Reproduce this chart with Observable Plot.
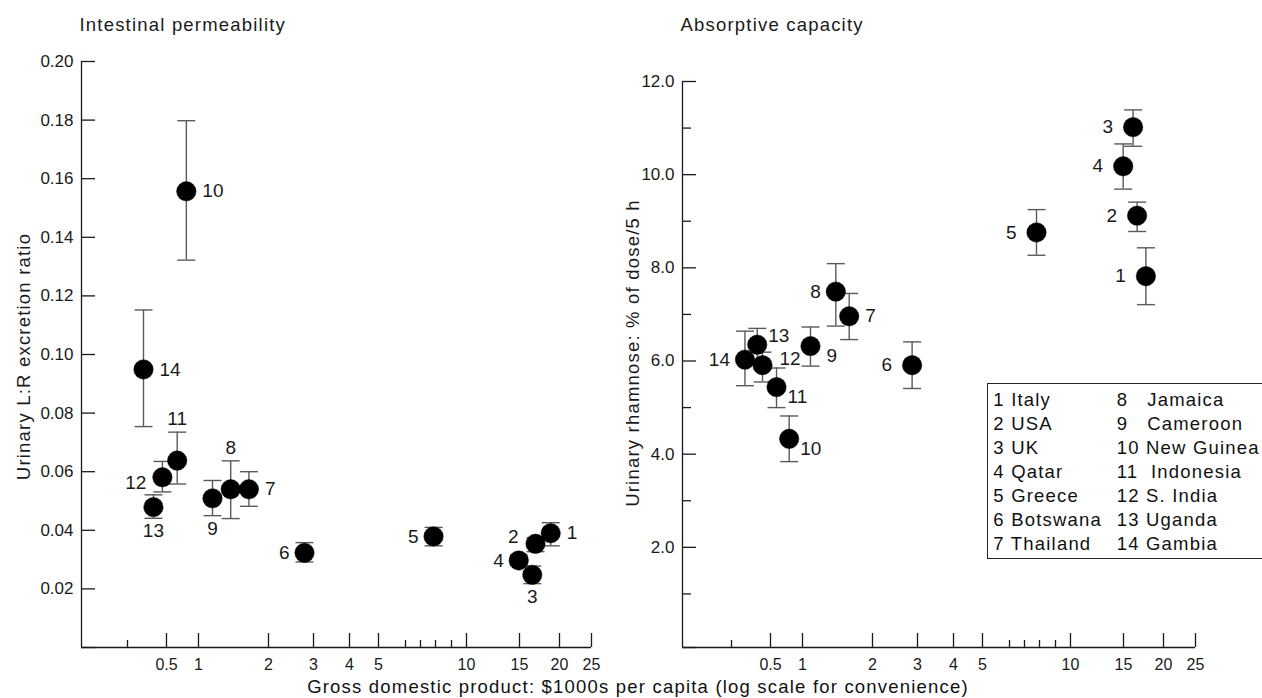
<!DOCTYPE html>
<html><head><meta charset="utf-8">
<script src="https://cdn.jsdelivr.net/npm/d3@7"></script>
<script src="https://cdn.jsdelivr.net/npm/@observablehq/plot@0.6"></script>
<style>
html,body{margin:0;padding:0;background:#fff;}
#wrap{position:relative;width:1262px;height:698px;overflow:hidden;background:#fff;font-family:"Liberation Sans",Arial,sans-serif;color:#111;}
#left,#right{position:absolute;top:0;}
#left{left:0}
#right{left:604px}
#xlabel{position:absolute;left:0;width:1276px;top:678px;text-align:center;font-size:18.5px;line-height:18.5px;letter-spacing:1.2px;white-space:nowrap;}
#legend{position:absolute;left:987px;top:383px;width:320px;height:174px;border:1px solid #222;background:#fff;}
#legend .col{position:absolute;top:3.6px;font-size:18.5px;line-height:24px;letter-spacing:1.2px;white-space:pre;}
</style></head>
<body>
<div id="wrap">
  <div id="left"></div>
  <div id="right"></div>
  <div id="xlabel"></div>
  <div id="legend"></div>
</div>
<script>
// ---------- data ----------
const countries = ["Italy","USA","UK","Qatar","Greece","Botswana","Thailand","Jamaica","Cameroon","New Guinea","Indonesia","S. India","Uganda","Gambia"];

// Intestinal permeability panel
const gdpPerm  = [18.9, 17.0, 16.6, 14.93, 7.87, 2.8, 1.72, 1.46, 1.2, 0.81, 0.667, 0.479, 0.433, 0.382];
const lrRatio  = [0.0390, 0.0354, 0.0248, 0.0297, 0.0379, 0.0323, 0.0540, 0.0540, 0.0509, 0.1557, 0.0638, 0.0581, 0.0479, 0.0949];
const lrLow    = [0.0347, 0.0327, 0.0218, 0.0280, 0.0347, 0.0292, 0.0482, 0.0440, 0.0450, 0.1322, 0.0558, 0.0531, 0.0441, 0.0754];
const lrHigh   = [0.0426, 0.0375, 0.0278, 0.0316, 0.0410, 0.0358, 0.0600, 0.0637, 0.0570, 0.1798, 0.0735, 0.0635, 0.0521, 0.1152];
const permLabelSide = ["r","lu","b","l","l","l","r","t","b","r","t","ld","b","r"];

// Absorptive capacity panel
const gdpAbs    = [17.8, 16.7, 16.2, 14.97, 7.8, 2.88, 1.667, 1.476, 1.114, 0.792, 0.594, 0.459, 0.432, 0.369];
const rhamnose  = [7.82, 9.12, 11.02, 10.18, 8.76, 5.91, 6.96, 7.49, 6.32, 4.33, 5.44, 5.91, 6.35, 6.03];
const rhamLow   = [7.21, 8.78, 10.61, 9.69, 8.27, 5.41, 6.46, 6.75, 5.89, 3.84, 5.00, 5.55, 6.00, 5.47];
const rhamHigh  = [8.43, 9.41, 11.39, 10.66, 9.25, 6.41, 7.45, 8.09, 6.73, 4.82, 5.85, 6.19, 6.70, 6.64];
const absLabelSide = ["L","L","L","L","L","L","r","l","rD","rd","rd","ru","rc","l"];

// axes
const xTickValues = [0.5, 1, 2, 3, 4, 5, 10, 15, 20, 25];
const xMinorTicks = [0.3, 6, 7, 8, 9];
const permTicks = [0, 0.02, 0.04, 0.06, 0.08, 0.10, 0.12, 0.14, 0.16, 0.18, 0.20];
const absTicks = [2, 4, 6, 8, 10, 12];
const absMinorTicks = [1, 3, 5, 7, 9, 11];

const legendText = ["1 Italy","2 USA","3 UK","4 Qatar","5 Greece","6 Botswana","7 Thailand",
                    "8   Jamaica","9   Cameroon","10 New Guinea","11  Indonesia","12 S. India","13 Uganda","14 Gambia"];

const titlePerm = "Intestinal permeability";
const titleAbs = "Absorptive capacity";
const yLabelPerm = "Urinary L:R excretion ratio";
const yLabelAbs = "Urinary rhamnose: % of dose/5 h";
const xLabel = "Gross domestic product: $1000s per capita (log scale for convenience)";

// ---------- hand-drawn "log" GDP axis: piecewise scale ----------
const gdpBreaks   = [0.2, 0.3, 0.5, 1, 2, 3, 4, 5, 6, 7, 8, 9, 10, 15, 20, 25];
const gdpBreakPos = [81, 127, 166, 198, 268, 313, 349, 378, 405, 420, 435, 451, 466, 519, 559, 591];

const ids = d3.range(1, 15);
function rows(gdp, val, lo, hi, side) {
  return ids.map((id, i) => ({id, country: countries[i], gdp: gdp[i], value: val[i], lo: lo[i], hi: hi[i], side: side[i]}));
}

const capSymbol = {draw(ctx, size) { const w = Math.sqrt(size / Math.PI); ctx.moveTo(-w, 0); ctx.lineTo(w, 0); }};
const ink = "#1a1a1a";
const barInk = "#5a5a5a";
const spacedTexts = [titlePerm, titleAbs, yLabelPerm, yLabelAbs];

function panel(o) {
  const data = o.data;
  const nudges = {r:[16,0], l:[-15,0], L:[-20,0], lu:[-17,-7], ld:[-16,6], ru:[17,-6], rd:[11,10], rD:[16,10], rc:[11,-9]};
  const labelMarks = Object.entries(nudges).map(([k, [dx, dy]]) =>
    Plot.text(data.filter(d => d.side === k), {x: "gdp", y: "value", text: d => String(d.id), dx, dy,
      textAnchor: dx > 0 ? "start" : "end", fontSize: 19, fill: ink}));
  const xr = gdpBreakPos.slice(); xr[0] = o.axisStart;
  const svg = Plot.plot({
    width: o.width, height: 698,
    marginLeft: o.axisStart, marginTop: o.marginTop, marginBottom: 51, marginRight: 10,
    style: {fontFamily: '"Liberation Sans", Arial, sans-serif', color: ink, background: "transparent"},
    x: {type: "linear", domain: gdpBreaks, range: xr, label: null},
    y: {domain: o.yDomain, label: null},
    marks: [
      Plot.ruleX([gdpBreaks[0]], {y1: o.yDomain[0], y2: o.yDomain[1], stroke: ink, strokeWidth: 1.3}),
      Plot.ruleY([o.yDomain[0]], {x1: gdpBreaks[0], x2: 25, stroke: ink, strokeWidth: 1.3}),
      Plot.axisY({ticks: o.yMajor, anchor: "left", tickSize: -14, tickPadding: 22, tickFormat: o.yFormat, fontSize: 17, label: null, stroke: ink, strokeWidth: 1.3, fill: ink}),
      ...(o.yMinor ? [Plot.axisY({ticks: o.yMinor, anchor: "left", tickSize: -9, tickPadding: 22, tickFormat: () => "", label: null, stroke: ink, strokeWidth: 1.3})] : []),
      Plot.axisX({ticks: xTickValues, anchor: "bottom", tickSize: -14, tickPadding: 25, tickFormat: d => String(d), fontSize: 16, label: null, stroke: ink, strokeWidth: 1.3, fill: ink}),
      Plot.axisX({ticks: xMinorTicks, anchor: "bottom", tickSize: -7, tickPadding: 25, tickFormat: () => "", label: null, stroke: ink, strokeWidth: 1.3}),
      Plot.ruleX(data, {x: "gdp", y1: "lo", y2: "hi", stroke: barInk, strokeWidth: 1.4}),
      Plot.dot(data, {x: "gdp", y: "hi", symbol: capSymbol, r: 9, fill: "none", stroke: barInk, strokeWidth: 1.4}),
      Plot.dot(data, {x: "gdp", y: "lo", symbol: capSymbol, r: 9, fill: "none", stroke: barInk, strokeWidth: 1.4}),
      Plot.dot(data, {x: "gdp", y: "value", r: 9.7, fill: "#000", stroke: "#000", strokeWidth: 0.5}),
      ...labelMarks,
      Plot.text(data.filter(d => d.side === "t"), {x: "gdp", y: "hi", text: d => String(d.id), dy: -13, fontSize: 19, fill: ink}),
      Plot.text(data.filter(d => d.side === "b"), {x: "gdp", y: "lo", text: d => String(d.id), dy: 13, fontSize: 19, fill: ink}),
      Plot.text([o.title], {text: d => d, frameAnchor: "top-left", dx: -2, dy: o.titleDy, textAnchor: "start", lineAnchor: "middle", fontSize: 18.5, fill: ink}),
      Plot.text([o.ylabel], {text: d => d, frameAnchor: "left", rotate: -90, dx: o.ylabelDx, dy: o.ylabelDy, textAnchor: "middle", lineAnchor: "top", fontSize: 18.5, fill: ink})
    ]
  });
  svg.querySelectorAll("text").forEach(t => {
    if (spacedTexts.includes(t.textContent)) t.style.letterSpacing = "1.2px";
  });
  return svg;
}

const left = panel({
  data: rows(gdpPerm, lrRatio, lrLow, lrHigh, permLabelSide),
  width: 604, axisStart: 81, marginTop: 61,
  yDomain: [0, 0.2], yMajor: permTicks, yMinor: null,
  yFormat: d => d === 0 ? "" : d.toFixed(2),
  title: titlePerm, titleDy: -36, ylabel: yLabelPerm, ylabelDx: -65, ylabelDy: 2
});
const right = panel({
  data: rows(gdpAbs, rhamnose, rhamLow, rhamHigh, absLabelSide),
  width: 658, axisStart: 78, marginTop: 81,
  yDomain: [-0.15, 12], yMajor: [-0.15, ...absTicks], yMinor: absMinorTicks,
  yFormat: d => d < 0 ? "" : d.toFixed(1),
  title: titleAbs, titleDy: -56, ylabel: yLabelAbs, ylabelDx: -57, ylabelDy: -11.5
});
document.getElementById("left").appendChild(left);
document.getElementById("right").appendChild(right);
document.getElementById("xlabel").textContent = xLabel;

const legend = document.getElementById("legend");
const col1 = document.createElement("div"); col1.className = "col"; col1.style.left = "5.3px";
const col2 = document.createElement("div"); col2.className = "col"; col2.style.left = "128.7px";
col1.textContent = legendText.slice(0, 7).join("\n");
col2.textContent = legendText.slice(7).join("\n");
legend.appendChild(col1); legend.appendChild(col2);
</script>
</body></html>
